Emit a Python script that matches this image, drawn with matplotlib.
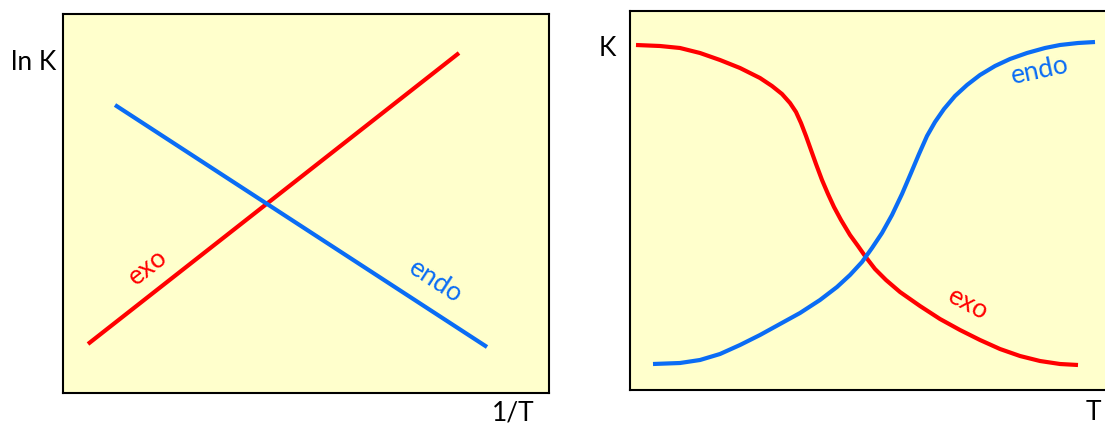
import matplotlib
matplotlib.use("Agg")
import matplotlib.pyplot as plt

# colours
RED = "#FF0000"
BLUE = "#0A6CF5"
BG = "#FFFFCC"

# left panel: ln K vs 1/T (straight lines)
lnk_exo_x = [25, 396]
lnk_exo_y = [49, 340]
lnk_endo_x = [52, 424]
lnk_endo_y = [288, 46]

# right panel: K vs T (sigmoid curves)
k_exo_x = [6, 30, 50, 70, 90, 110, 130, 142, 152, 160, 166, 171, 176, 181, 186, 192,
           198, 204, 211, 220, 228, 235, 245, 256, 270, 290, 310, 330, 350, 370,
           390, 410, 430, 448]
k_exo_y = [345, 344, 342, 337, 330, 322, 312, 304, 296, 287, 278, 267, 254, 240, 226, 210,
           196, 183, 170, 155, 144, 134, 121, 110, 98, 84, 71, 60, 50, 41,
           34, 29, 26, 25]
k_endo_x = [23, 50, 70, 90, 110, 130, 150, 170, 190, 207, 220, 232, 242, 252, 262,
            272, 281, 289, 297, 305, 314, 325, 337, 350, 365, 380, 397, 415, 430,
            448, 465]
k_endo_y = [26, 27, 30, 36, 45, 55, 66, 77, 90, 103, 115, 128, 142, 157, 175,
            196, 217, 236, 254, 268, 281, 294, 305, 315, 324, 331, 337, 342, 345,
            347, 348]

plt.rcParams["font.family"] = ["Lato", "DejaVu Sans"]

fig = plt.figure(figsize=(11.05, 4.26), dpi=100)
W, H = 1105, 426

def make_axes(left, top, right, bottom):
    ax = fig.add_axes([left / W, 1 - bottom / H, (right - left) / W, (bottom - top) / H])
    ax.set_facecolor(BG)
    ax.set_xlim(0, right - left)
    ax.set_ylim(0, bottom - top)
    ax.set_xticks([])
    ax.set_yticks([])
    for s in ax.spines.values():
        s.set_linewidth(1.5)
        s.set_color("black")
    return ax

line_kw = dict(lw=3, solid_capstyle="butt", solid_joinstyle="round")
fs = 19

# Left panel
ax1 = make_axes(63, 14, 549, 393)
ax1.plot(lnk_exo_x, lnk_exo_y, color=RED, **line_kw)
ax1.plot(lnk_endo_x, lnk_endo_y, color=BLUE, **line_kw)
ax1.text(85, 126, "exo", color=RED, fontsize=fs, rotation=38, ha="center", va="center")
ax1.text(372, 111, "endo", color=BLUE, fontsize=fs, rotation=-33, ha="center", va="center")
fig.text(56 / W, 1 - 62 / H, "ln K", fontsize=fs, ha="right", va="center")
fig.text(513 / W, 1 - 413 / H, "1/T", fontsize=fs, ha="center", va="center")

# Right panel (runs past the image edge)
ax2 = make_axes(630, 11, 1116, 390)
ax2.plot(k_exo_x, k_exo_y, color=RED, **line_kw)
ax2.plot(k_endo_x, k_endo_y, color=BLUE, **line_kw)
ax2.text(338, 86, "exo", color=RED, fontsize=fs, rotation=-28, ha="center", va="center")
ax2.text(410, 319, "endo", color=BLUE, fontsize=fs, rotation=12, ha="center", va="center")
fig.text(607 / W, 1 - 48 / H, "K", fontsize=fs, ha="center", va="center")
fig.text(1093 / W, 1 - 412 / H, "T", fontsize=fs, ha="center", va="center")

fig.savefig("out.png", dpi=100)
